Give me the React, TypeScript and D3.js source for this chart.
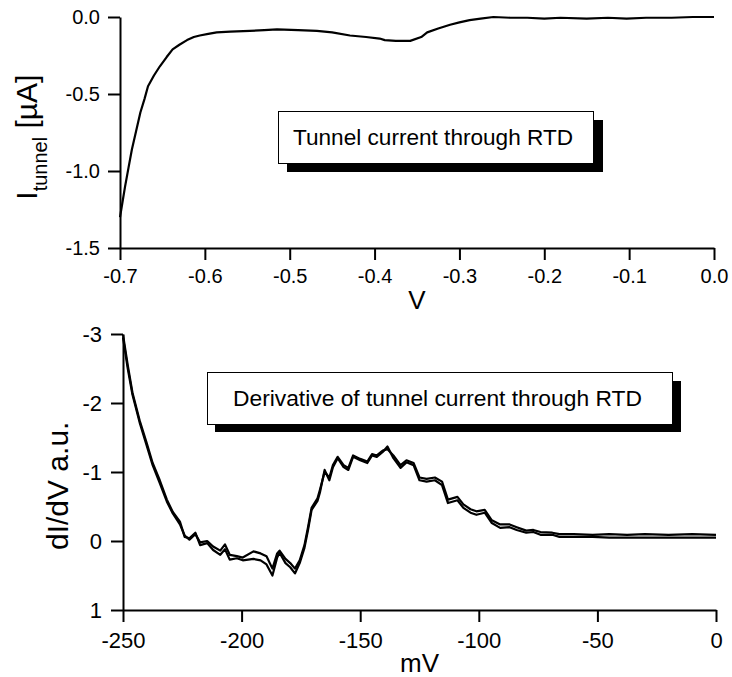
import React, { useEffect, useRef } from "react";
import * as d3 from "d3";

// top panel: tunnel current vs bias
const biasV = [-0.700, -0.697, -0.694, -0.690, -0.686, -0.681, -0.676, -0.671, -0.667, -0.660, -0.653, -0.645, -0.638, -0.630, -0.621, -0.613, -0.606, -0.596, -0.586, -0.570, -0.547, -0.530, -0.515, -0.490, -0.468, -0.450, -0.429, -0.410, -0.394, -0.388, -0.375, -0.358, -0.345, -0.338, -0.325, -0.311, -0.300, -0.288, -0.275, -0.260, -0.240, -0.220, -0.200, -0.181, -0.150, -0.125, -0.103, -0.080, -0.050, -0.025, 0.000];
const currentUA = [-1.30, -1.20, -1.10, -0.98, -0.86, -0.74, -0.62, -0.53, -0.45, -0.38, -0.32, -0.26, -0.21, -0.18, -0.15, -0.13, -0.12, -0.11, -0.10, -0.095, -0.09, -0.085, -0.08, -0.085, -0.09, -0.10, -0.12, -0.13, -0.14, -0.15, -0.155, -0.155, -0.13, -0.10, -0.075, -0.05, -0.035, -0.02, -0.01, 0.0, -0.005, -0.005, -0.01, -0.005, -0.01, -0.005, -0.01, -0.005, -0.005, 0.0, 0.0];
const topXTicks = [-0.7, -0.6, -0.5, -0.4, -0.3, -0.2, -0.1, 0.0];
const topYTicks = [-1.5, -1.0, -0.5, 0.0];

// bottom panel: dI/dV, two sweeps
const biasMV = [-250, -248, -246, -243, -240, -237.5, -234.5, -231.5, -229, -226, -224, -222, -219.5, -217.5, -214.5, -212, -209, -207, -205, -202, -199.5, -195, -192, -189.5, -187, -185, -184, -181.5, -179.5, -177.5, -175.5, -173.5, -172, -170.5, -168, -167, -165, -163, -161.5, -159.5, -157, -155, -153, -150, -147, -145, -143, -140.5, -138.5, -136, -133, -130.5, -127.5, -125, -122, -118.5, -115.5, -113, -109, -106.5, -103.5, -101, -97.5, -94.5, -91, -87, -84, -80, -77, -74, -69, -66, -60, -52, -45, -37.5, -30, -20, -10, 0];
const didvA = [-2.99, -2.55, -2.15, -1.75, -1.42, -1.13, -0.88, -0.60, -0.42, -0.28, -0.06, -0.04, -0.12, 0.06, 0.03, 0.13, 0.20, 0.12, 0.27, 0.25, 0.28, 0.26, 0.28, 0.34, 0.50, 0.24, 0.17, 0.32, 0.38, 0.47, 0.32, 0.10, -0.16, -0.45, -0.58, -0.70, -1.03, -0.88, -1.07, -1.20, -1.07, -1.03, -1.22, -1.17, -1.13, -1.24, -1.22, -1.29, -1.37, -1.20, -1.06, -1.14, -1.10, -0.88, -0.86, -0.88, -0.81, -0.55, -0.59, -0.48, -0.41, -0.38, -0.41, -0.26, -0.19, -0.20, -0.16, -0.12, -0.13, -0.09, -0.09, -0.06, -0.06, -0.06, -0.05, -0.05, -0.05, -0.05, -0.05, -0.05];
const didvB = [-2.95, -2.50, -2.12, -1.72, -1.38, -1.10, -0.84, -0.57, -0.40, -0.24, -0.08, -0.02, -0.10, 0.02, 0.00, 0.08, 0.14, 0.05, 0.20, 0.22, 0.24, 0.15, 0.18, 0.22, 0.40, 0.18, 0.14, 0.26, 0.32, 0.40, 0.28, 0.06, -0.20, -0.48, -0.62, -0.74, -1.00, -0.92, -1.10, -1.22, -1.10, -1.06, -1.24, -1.19, -1.15, -1.26, -1.24, -1.31, -1.33, -1.24, -1.10, -1.17, -1.13, -0.92, -0.90, -0.92, -0.86, -0.60, -0.64, -0.53, -0.46, -0.43, -0.45, -0.30, -0.24, -0.24, -0.20, -0.15, -0.16, -0.13, -0.12, -0.10, -0.10, -0.09, -0.10, -0.09, -0.10, -0.09, -0.10, -0.09];
const botXTicks = [-250, -200, -150, -100, -50, 0];
const botYTicks = [-3, -2, -1, 0, 1];

const FONT = "'Liberation Sans', Arial, sans-serif";

export default function App() {
  const ref = useRef<SVGSVGElement>(null);

  useEffect(() => {
    const svg = d3.select(ref.current);
    svg.selectAll("*").remove();

    // ---- top panel ----
    const x1 = d3.scaleLinear().domain([-0.7, 0]).range([120, 714]);
    const y1 = d3.scaleLinear().domain([-1.5, 0]).range([248, 17]);

    const styleAxis = (g, size) => {
      g.select(".domain").attr("stroke-width", 2);
      g.selectAll(".tick line").attr("stroke-width", 2);
      g.selectAll("text").attr("font-size", size).attr("font-family", FONT).attr("fill", "#000");
    };

    svg.append("g").attr("transform", "translate(0,248)")
      .call(d3.axisBottom(x1).tickValues(topXTicks).tickFormat(d => d.toFixed(1)).tickSize(12).tickSizeOuter(0).tickPadding(9))
      .call(g => styleAxis(g, 20));
    svg.append("g").attr("transform", "translate(120,0)")
      .call(d3.axisLeft(y1).tickValues(topYTicks).tickFormat(d => d.toFixed(1)).tickSize(12).tickSizeOuter(0).tickPadding(8))
      .call(g => styleAxis(g, 20));

    const line1 = d3.line().x(i => x1(biasV[i])).y(i => y1(currentUA[i]));
    svg.append("path").attr("d", line1(d3.range(biasV.length)))
      .attr("fill", "none").attr("stroke", "#000").attr("stroke-width", 2.2).attr("stroke-linejoin", "round");

    // axis titles
    svg.append("text").attr("x", x1(-0.35)).attr("y", 309).attr("text-anchor", "middle")
      .attr("font-family", FONT).attr("font-size", 26).text("V");
    const yl = svg.append("text").attr("transform", `translate(37,${y1(-0.78)}) rotate(-90)`)
      .attr("text-anchor", "middle").attr("font-family", FONT).attr("font-size", 30);
    yl.append("tspan").text("I");
    yl.append("tspan").attr("font-size", 20).attr("dy", 10).text("tunnel");
    yl.append("tspan").attr("dy", -10).text(" [µA]");

    // legend
    const leg1 = svg.append("g");
    leg1.append("rect").attr("x", 287).attr("y", 120).attr("width", 316).attr("height", 52).attr("fill", "#000");
    leg1.append("rect").attr("x", 278.5).attr("y", 111.5).attr("width", 315).attr("height", 52)
      .attr("fill", "#fff").attr("stroke", "#000").attr("stroke-width", 1);
    leg1.append("text").attr("x", 293).attr("y", 145).attr("font-family", FONT).attr("font-size", 22.6)
      .text("Tunnel current through RTD");

    // ---- bottom panel ----
    const x2 = d3.scaleLinear().domain([-250, 0]).range([123, 716]);
    const y2 = d3.scaleLinear().domain([-3, 1]).range([334, 610]);

    svg.append("g").attr("transform", "translate(0,610)")
      .call(d3.axisBottom(x2).tickValues(botXTicks).tickFormat(d => String(d)).tickSize(12).tickSizeOuter(0).tickPadding(10))
      .call(g => styleAxis(g, 22));
    svg.append("g").attr("transform", "translate(123,0)")
      .call(d3.axisLeft(y2).tickValues(botYTicks).tickFormat(d => String(d)).tickSize(12).tickSizeOuter(0).tickPadding(9))
      .call(g => styleAxis(g, 22));

    [didvB, didvA].forEach(vals => {
      const ln = d3.line().x(i => x2(biasMV[i])).y(i => y2(vals[i]));
      svg.append("path").attr("d", ln(d3.range(biasMV.length)))
        .attr("fill", "none").attr("stroke", "#000").attr("stroke-width", 2.2).attr("stroke-linejoin", "round");
    });

    svg.append("text").attr("x", x2(-125)).attr("y", 672).attr("text-anchor", "middle")
      .attr("font-family", FONT).attr("font-size", 26).text("mV");
    svg.append("text").attr("transform", `translate(68,${y2(-0.8)}) rotate(-90)`)
      .attr("text-anchor", "middle").attr("font-family", FONT).attr("font-size", 30).text("dI/dV a.u.");

    const leg2 = svg.append("g");
    leg2.append("rect").attr("x", 215).attr("y", 381).attr("width", 466).attr("height", 51).attr("fill", "#000");
    leg2.append("rect").attr("x", 207.5).attr("y", 372.5).attr("width", 465).attr("height", 52)
      .attr("fill", "#fff").attr("stroke", "#000").attr("stroke-width", 1);
    leg2.append("text").attr("x", 233).attr("y", 406).attr("font-family", FONT).attr("font-size", 22.8)
      .text("Derivative of tunnel current through RTD");
  }, []);

  return (
    <svg ref={ref} width={732} height={677}
      style={{ position: "absolute", left: 0, top: 0, background: "#fff" }} />
  );
}
